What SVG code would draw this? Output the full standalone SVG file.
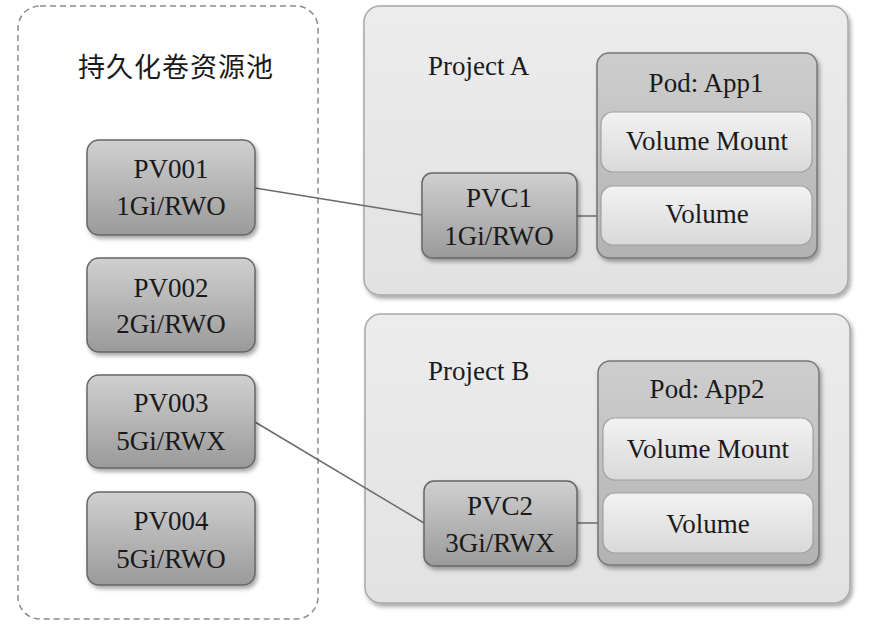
<svg xmlns="http://www.w3.org/2000/svg" width="876" height="636" viewBox="0 0 876 636">
<defs>
<linearGradient id="gPV" x1="0" y1="0" x2="0" y2="1"><stop offset="0" stop-color="#d0d0d0"/><stop offset="1" stop-color="#9a9a9a"/></linearGradient>
<linearGradient id="gPod" x1="0" y1="0" x2="0" y2="1"><stop offset="0" stop-color="#cecece"/><stop offset="1" stop-color="#b2b2b2"/></linearGradient>
<linearGradient id="gIn" x1="0" y1="0" x2="0" y2="1"><stop offset="0" stop-color="#f2f2f2"/><stop offset="1" stop-color="#d9d9d9"/></linearGradient>
<linearGradient id="gProj" x1="0" y1="0" x2="0" y2="1"><stop offset="0" stop-color="#ececec"/><stop offset="1" stop-color="#e2e2e2"/></linearGradient>
<filter id="sh" x="-10%" y="-10%" width="130%" height="130%"><feDropShadow dx="2" dy="3" stdDeviation="2" flood-color="#000" flood-opacity="0.35"/></filter>
</defs>
<style>
text{font-family:"Liberation Serif","Noto Sans CJK SC",serif;fill:#1a1a1a;text-anchor:middle;}
.t{font-size:27px;}
.pv{fill:url(#gPV);stroke:#666666;stroke-width:1.5;filter:url(#sh);}
.proj{fill:url(#gProj);stroke:#a8a8a8;stroke-width:1.5;filter:url(#sh);}
.pod{fill:url(#gPod);stroke:#777777;stroke-width:1.5;filter:url(#sh);}
.in{fill:url(#gIn);stroke:#a0a0a0;stroke-width:1.2;}
.ln{stroke:#6a6a6a;stroke-width:1.5;fill:none;}
</style>
<rect width="876" height="636" fill="#ffffff"/>
<g id="pool">
<rect x="18" y="6" width="300" height="613" rx="22" fill="#ffffff" stroke="#8c8c8c" stroke-width="1.5" stroke-dasharray="6,4"/>
<text x="176" y="77" style="font-size:27px;letter-spacing:1px">持久化卷资源池</text>
</g>
<g id="projectA">
<rect class="proj" x="364" y="6" width="484" height="289" rx="16"/>
<text x="428" y="75" class="t" style="text-anchor:start">Project A</text>
</g>
<g id="projectB">
<rect class="proj" x="365" y="314" width="485" height="289" rx="16"/>
<text x="428" y="380" class="t" style="text-anchor:start">Project B</text>
</g>
<g id="connectors">
<line class="ln" x1="255" y1="188" x2="422" y2="215"/>
<line class="ln" x1="577" y1="216" x2="601" y2="216"/>
<line class="ln" x1="255" y1="422" x2="424" y2="523"/>
<line class="ln" x1="577" y1="523" x2="603" y2="523"/>
</g>
<g id="pv001"><rect class="pv" x="87" y="140" width="168" height="95" rx="12"/><text x="171" y="178" class="t">PV001</text><text x="171" y="215" class="t">1Gi/RWO</text></g>
<g id="pv002"><rect class="pv" x="87" y="258" width="168" height="94" rx="12"/><text x="171" y="297" class="t">PV002</text><text x="171" y="333" class="t">2Gi/RWO</text></g>
<g id="pv003"><rect class="pv" x="87" y="375" width="168" height="93" rx="12"/><text x="171" y="412" class="t">PV003</text><text x="171" y="450" class="t">5Gi/RWX</text></g>
<g id="pv004"><rect class="pv" x="87" y="492" width="168" height="93" rx="12"/><text x="171" y="530" class="t">PV004</text><text x="171" y="568" class="t">5Gi/RWO</text></g>
<g id="pvc1"><rect class="pv" x="422" y="173" width="155" height="85" rx="10"/><text x="499" y="207" class="t">PVC1</text><text x="499" y="245" class="t">1Gi/RWO</text></g>
<g id="pvc2"><rect class="pv" x="424" y="481" width="153" height="85" rx="10"/><text x="500" y="515" class="t">PVC2</text><text x="500" y="552" class="t">3Gi/RWX</text></g>
<g id="podApp1">
<rect class="pod" x="597" y="53" width="220" height="205" rx="12"/>
<text x="706" y="92" class="t">Pod: App1</text>
<rect class="in" x="601" y="112" width="211" height="60" rx="12"/>
<text x="707" y="150" class="t">Volume Mount</text>
<rect class="in" x="601" y="186" width="211" height="59" rx="12"/>
<text x="707" y="223" class="t">Volume</text>
</g>
<g id="podApp2">
<rect class="pod" x="598" y="361" width="221" height="204" rx="12"/>
<text x="707" y="398" class="t">Pod: App2</text>
<rect class="in" x="603" y="418" width="210" height="62" rx="12"/>
<text x="708" y="458" class="t">Volume Mount</text>
<rect class="in" x="603" y="493" width="210" height="60" rx="12"/>
<text x="708" y="533" class="t">Volume</text>
</g>
</svg>
